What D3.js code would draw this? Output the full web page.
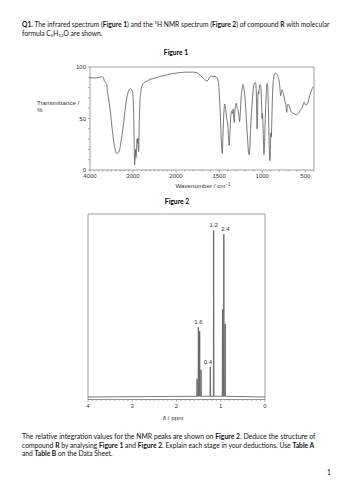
<!DOCTYPE html>
<html>
<head>
<meta charset="utf-8">
<script src="https://cdn.jsdelivr.net/npm/d3@7"></script>
<style>
  body { margin: 0; background: #fff; }
  svg { display: block; }
</style>
</head>
<body>
<svg id="page" width="353" height="500"></svg>
<script>
// IR spectrum (wavenumber / cm-1, transmittance %)
const irWave = [4000, 3850, 3720, 3690, 3665, 3640, 3615, 3595, 3570, 3530, 3490, 3450, 3410, 3380, 3350, 3310, 3270, 3220, 3180, 3140,
  3100, 3060, 3030, 3005, 2985, 2972, 2962, 2950, 2940, 2930, 2920, 2905, 2895, 2885, 2875, 2868, 2855, 2840, 2820, 2790,
  2740, 2680, 2600, 2500, 2400, 2300, 2200, 2100, 2000, 1900, 1800, 1760, 1720, 1680, 1650, 1630, 1610, 1590, 1560, 1530,
  1510, 1495, 1480, 1470, 1463, 1455, 1445, 1435, 1425, 1412, 1400, 1390, 1383, 1375, 1365, 1355, 1345, 1337, 1330, 1325,
  1318, 1308, 1300, 1290, 1280, 1270, 1262, 1255, 1245, 1232, 1225, 1215, 1200, 1185, 1170, 1160, 1152, 1145, 1135, 1120,
  1105, 1092, 1080, 1070, 1065, 1060, 1055, 1050, 1045, 1040, 1035, 1025, 1015, 1008, 1002, 998, 992, 985, 980, 975,
  965, 955, 945, 938, 930, 922, 915, 910, 905, 900, 895, 890, 880, 870, 858, 845, 830, 815, 800, 792,
  786, 780, 770, 760, 750, 740, 725, 715, 710, 700, 680, 660, 640, 620, 600, 580, 560, 540, 525, 515,
  505, 495, 480, 465, 450, 430, 410];
const irT = [89.5, 89.5, 90.5, 90, 86, 85, 84, 76, 70, 58, 42, 28, 19, 16, 16.5, 20, 30, 45, 60, 71,
  77, 79, 78, 74, 55, 25, 5, 15, 20, 12, 18, 30, 26, 31, 20, 18, 45, 65, 75, 82,
  85, 86, 88, 89, 90.5, 91.5, 92.5, 93.5, 94, 95, 95, 94.5, 92, 89, 86.5, 87, 90, 91, 91, 90,
  86, 70, 40, 20, 16, 35, 55, 64, 60, 50, 45, 30, 24, 35, 52, 57, 55, 59, 50, 46,
  56, 63, 65, 60, 58, 52, 47, 55, 70, 80, 83, 80, 70, 50, 30, 18, 15, 20, 40, 62,
  78, 84, 85, 78, 60, 40, 50, 72, 76, 74, 79, 83, 80, 65, 50, 55, 45, 25, 15, 22,
  50, 72, 84, 82, 65, 35, 12, 9, 20, 36, 32, 45, 75, 88, 93, 94, 93, 90, 84, 76,
  72, 75, 78, 76, 72, 68, 62, 56, 62, 64, 60, 56, 55, 54, 53.5, 55, 58, 60, 64, 66,
  64, 63, 64, 67, 72, 77, 81];
const irTicks = [4000, 3000, 2000, 1500, 1000, 500];
const transTicks = [0, 50, 100];

// 1H NMR lines (chemical shift / ppm, relative height)
const nmrPpm = [1.535, 1.506, 1.476, 1.445, 1.236, 1.16, 0.96, 0.93, 0.90];
const nmrHeight = [10, 38, 36, 15, 16.5, 91, 48, 89, 40];
const nmrTicks = [4, 3, 2, 1, 0];
// integration labels and the line each one sits over
const integLabels = ['1.6', '0.4', '1.2', '2.4'];
const integLine = [1, 4, 5, 7];

const svg = d3.select('#page');
svg.append('rect').attr('width', 353).attr('height', 500).attr('fill', '#fff');

const docFont = 'Lato, "Open Sans", sans-serif';
const chartFont = '"Liberation Sans", Arial, sans-serif';
let docSize = 7.6;

// write a line of document text made of plain / bold / sub / sup parts;
// if a width is given the line is sized to span it
function richLine(x, y, parts, width) {
    const t = svg.append('text')
        .attr('x', x).attr('y', y)
        .attr('font-family', docFont)
        .attr('font-size', docSize)
        .attr('fill', '#111');
    parts.forEach(p => {
        const s = t.append('tspan').text(p.t);
        if (p.b) s.attr('font-weight', 'bold');
        if (p.sup) s.attr('dy', -2.6).attr('font-size', '65%');
        if (p.sub) s.attr('dy', 1.5).attr('font-size', '65%');
        if (p.back) s.attr('dy', p.back);
    });
    if (width) {
        const len = t.node().getComputedTextLength();
        t.attr('font-size', docSize * width / len);
    }
    return t;
}

// question text (first line sets the size used by the short lines)
const q1 = richLine(22, 27, [
    {t: 'Q1.', b: true}, {t: ' The infrared spectrum ('}, {t: 'Figure 1', b: true},
    {t: ') and the '}, {t: '1', sup: true}, {t: 'H NMR spectrum (', back: 2.6}, {t: 'Figure 2', b: true},
    {t: ') of compound '}, {t: 'R', b: true}, {t: ' with molecular'}
], 308);
docSize = +q1.attr('font-size');
richLine(22, 35.5, [
    {t: 'formula C'}, {t: '5', sub: true}, {t: 'H', back: -1.5}, {t: '12', sub: true},
    {t: 'O are shown.', back: -1.5}
]);

svg.append('text').attr('x', 176).attr('y', 54.5).attr('text-anchor', 'middle')
    .attr('font-family', docFont).attr('font-size', docSize).attr('font-weight', 'bold').text('Figure 1');
svg.append('text').attr('x', 177).attr('y', 203.5).attr('text-anchor', 'middle')
    .attr('font-family', docFont).attr('font-size', docSize).attr('font-weight', 'bold').text('Figure 2');

// ---------- Figure 1 : IR ----------
const xIR = d3.scaleLinear().domain([4000, 2000, 400]).range([90, 176, 314]);
const yIR = d3.scaleLinear().domain([0, 100]).range([170, 67]);
const ir = svg.append('g');

ir.append('rect')
    .attr('x', xIR(4000)).attr('y', yIR(100))
    .attr('width', xIR(400) - xIR(4000)).attr('height', yIR(0) - yIR(100))
    .attr('fill', 'none').attr('stroke', '#888').attr('stroke-width', 0.8);

// minor ticks
ir.append('g').selectAll('line')
    .data(d3.range(0, 101, 10))
    .join('line')
    .attr('x1', xIR(4000) - 2).attr('x2', xIR(4000))
    .attr('y1', d => yIR(d)).attr('y2', d => yIR(d))
    .attr('stroke', '#777').attr('stroke-width', 0.6);
ir.append('g').selectAll('line')
    .data(d3.range(4000, 399, -100))
    .join('line')
    .attr('x1', d => xIR(d)).attr('x2', d => xIR(d))
    .attr('y1', yIR(0)).attr('y2', d => yIR(0) + (irTicks.includes(d) ? 2.5 : 1.5))
    .attr('stroke', '#777').attr('stroke-width', 0.6);

ir.append('g').selectAll('text')
    .data(transTicks)
    .join('text')
    .attr('x', xIR(4000) - 4).attr('y', d => yIR(d) + 2)
    .attr('text-anchor', 'end')
    .attr('font-family', chartFont).attr('font-size', 6).attr('fill', '#333')
    .text(d => d);
ir.append('g').selectAll('text')
    .data(irTicks)
    .join('text')
    .attr('x', d => xIR(d)).attr('y', yIR(0) + 8)
    .attr('text-anchor', 'middle')
    .attr('font-family', chartFont).attr('font-size', 6).attr('fill', '#333')
    .text(d => d);

ir.append('text').attr('x', 37).attr('y', 105)
    .attr('font-family', chartFont).attr('font-size', 6.2).attr('fill', '#333')
    .text('Transmittance /');
ir.append('text').attr('x', 37).attr('y', 112)
    .attr('font-family', chartFont).attr('font-size', 6.2).attr('fill', '#333')
    .text('%');
const wl = ir.append('text').attr('x', 203).attr('y', 188).attr('text-anchor', 'middle')
    .attr('font-family', chartFont).attr('font-size', 6.2).attr('fill', '#333');
wl.append('tspan').text('Wavenumber / cm');
wl.append('tspan').attr('dy', -2.5).attr('font-size', 4.5).text('\u22121');

const irLine = d3.line()
    .x(d => xIR(d[0]))
    .y(d => yIR(d[1]))
    .curve(d3.curveMonotoneX);
ir.append('path')
    .datum(d3.zip(irWave, irT).reverse())
    .attr('d', irLine)
    .attr('fill', 'none').attr('stroke', '#555').attr('stroke-width', 0.8);

// ---------- Figure 2 : NMR ----------
const xN = d3.scaleLinear().domain([4, 0]).range([88, 265]);
const yN = d3.scaleLinear().domain([0, 100]).range([397, 214]);
const nmr = svg.append('g');
const axisY = 399.5;

nmr.append('path')
    .attr('d', `M${xN(4)},${axisY}V${yN(100)}H${xN(0)}V${axisY}`)
    .attr('fill', 'none').attr('stroke', '#888').attr('stroke-width', 0.8);
nmr.append('line')
    .attr('x1', xN(4)).attr('x2', xN(0)).attr('y1', axisY).attr('y2', axisY)
    .attr('stroke', '#666').attr('stroke-width', 0.7);
nmr.append('g').selectAll('line')
    .data(d3.range(0, 41).map(i => i / 10))
    .join('line')
    .attr('x1', d => xN(d)).attr('x2', d => xN(d))
    .attr('y1', axisY).attr('y2', (d, i) => axisY + (i % 10 === 0 ? 2.5 : 1.5))
    .attr('stroke', '#666').attr('stroke-width', 0.5);
nmr.append('g').selectAll('text')
    .data(nmrTicks)
    .join('text')
    .attr('x', d => xN(d)).attr('y', 408)
    .attr('text-anchor', 'middle')
    .attr('font-family', chartFont).attr('font-size', 6).attr('fill', '#333')
    .text(d => d);
nmr.append('text').attr('x', 173).attr('y', 420).attr('text-anchor', 'middle')
    .attr('font-family', chartFont).attr('font-size', 6.2).attr('fill', '#333')
    .text('\u03b4 / ppm');

// spectrum: baseline with a narrow spike for each line
const lines = d3.zip(nmrPpm, nmrHeight).sort((a, b) => b[0] - a[0]);
const w = 0.007;
const pts = [[4, 0]];
lines.forEach(([p, h]) => {
    pts.push([p + w, 0.4], [p, h], [p - w, 0.4]);
});
pts.push([0, 0]);
nmr.append('path')
    .attr('d', d3.line().x(d => xN(d[0])).y(d => yN(d[1]))(pts))
    .attr('fill', 'none').attr('stroke', '#555').attr('stroke-width', 0.8)
    .attr('stroke-linejoin', 'round');

nmr.append('g').selectAll('text')
    .data(integLabels)
    .join('text')
    .attr('x', (d, i) => xN(nmrPpm[integLine[i]]) + (i === 1 ? -2.5 : i === 3 ? 1.5 : 0))
    .attr('y', (d, i) => yN(nmrHeight[integLine[i]]) - 3)
    .attr('text-anchor', 'middle')
    .attr('font-family', chartFont).attr('font-size', 6).attr('fill', '#333')
    .text(d => d);

// closing text
richLine(22, 439, [
    {t: 'The relative integration values for the NMR peaks are shown on '}, {t: 'Figure 2', b: true},
    {t: '.  Deduce the structure of'}
], 293);
richLine(22, 447.5, [
    {t: 'compound '}, {t: 'R', b: true}, {t: ' by analysing '}, {t: 'Figure 1', b: true},
    {t: ' and '}, {t: 'Figure 2', b: true}, {t: '.  Explain each stage in your deductions.  Use '},
    {t: 'Table A', b: true}
], 292);
richLine(22, 456, [
    {t: 'and '}, {t: 'Table B', b: true}, {t: ' on the Data Sheet.'}
]);
richLine(327, 475, [{t: '1'}]);
</script>
</body>
</html>
